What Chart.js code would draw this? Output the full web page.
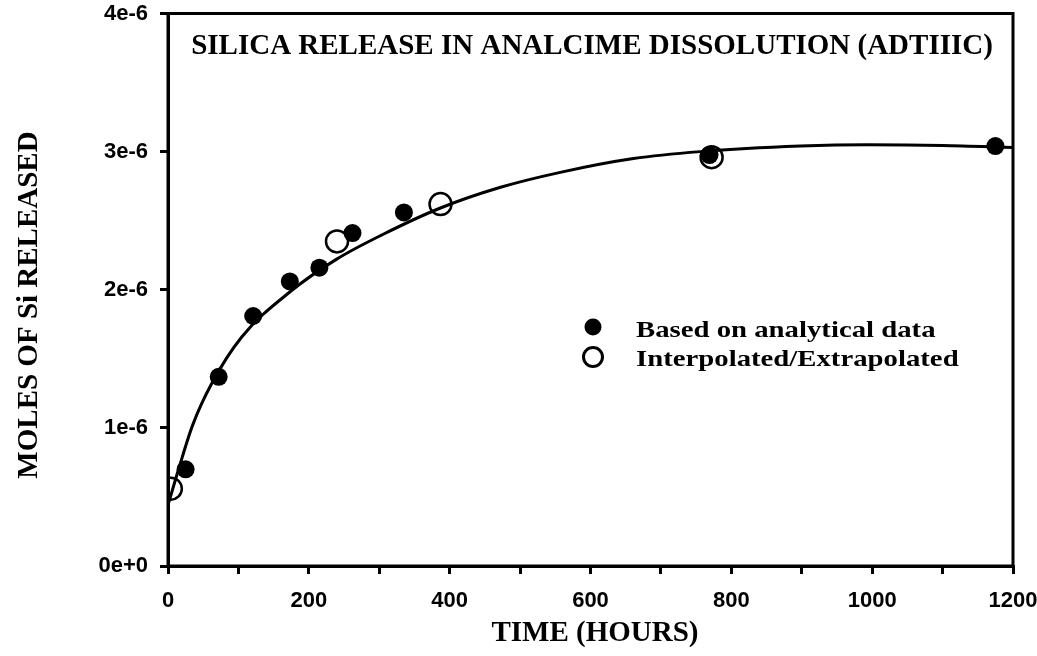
<!DOCTYPE html>
<html>
<head>
<meta charset="utf-8">
<script src="https://cdn.jsdelivr.net/npm/chart.js@4.4.1/dist/chart.umd.min.js"></script>
<style>
  html, body { margin: 0; padding: 0; background: #fff; }
  #wrap { width: 1037px; height: 656px; }
</style>
</head>
<body>
<div id="wrap"><canvas id="silica"></canvas></div>
<script>
// measured points (hours, moles of Si)
const analyticalHours = [25, 72, 121, 173, 215, 262, 335, 769, 1175];
const analyticalMoles = [0.70e-6, 1.37e-6, 1.81e-6, 2.06e-6, 2.16e-6, 2.41e-6, 2.56e-6, 2.975e-6, 3.04e-6];

// interpolated / extrapolated points
const interpHours = [4, 240, 387, 772];
const interpMoles = [0.56e-6, 2.35e-6, 2.62e-6, 2.96e-6];

// fitted release curve
const fitHours = [0, 15, 35, 63, 105, 172, 239, 305, 386, 471, 557, 661, 756, 898, 993, 1100, 1200];
const fitMoles = [0.44e-6, 0.70e-6, 1.02e-6, 1.33e-6, 1.66e-6, 1.98e-6, 2.22e-6, 2.40e-6, 2.59e-6,
                  2.74e-6, 2.85e-6, 2.95e-6, 3.00e-6, 3.04e-6, 3.05e-6, 3.045e-6, 3.03e-6];

const chartTitle = 'SILICA RELEASE IN ANALCIME DISSOLUTION (ADTIIIC)';
const xTitle = 'TIME (HOURS)';
const yTitle = 'MOLES OF Si RELEASED';

const pts = (xs, ys) => xs.map((x, i) => ({ x: x, y: ys[i] }));

const serif = '"Liberation Serif", "Times New Roman", serif';
const sans = '"Liberation Sans", Arial, sans-serif';

// frame, titles and the in-plot key
const decor = {
  id: 'decor',
  afterDraw(chart) {
    const ctx = chart.ctx, a = chart.chartArea;
    ctx.save();
    ctx.strokeStyle = '#000';
    ctx.lineWidth = 3;
    ctx.strokeRect(a.left, a.top, a.right - a.left, a.bottom - a.top);

    ctx.fillStyle = '#000';
    ctx.textBaseline = 'middle';
    ctx.textAlign = 'center';
    ctx.font = 'bold 29px ' + serif;
    ctx.fillText(chartTitle, 592, 47);

    ctx.fillText(xTitle, 595, 634);

    ctx.save();
    ctx.translate(30, 305);
    ctx.rotate(-Math.PI / 2);
    ctx.fillText(yTitle, 0, 0);
    ctx.restore();

    // key
    ctx.beginPath();
    ctx.arc(593, 327, 8.5, 0, Math.PI * 2);
    ctx.fill();
    ctx.beginPath();
    ctx.lineWidth = 3;
    ctx.arc(593, 357, 9.5, 0, Math.PI * 2);
    ctx.stroke();

    const labels = chart.data.datasets.slice(0, 2).map(d => d.label);
    ctx.textAlign = 'left';
    ctx.font = 'bold 23px ' + serif;
    [331, 360].forEach((y, i) => {
      ctx.save();
      ctx.translate(636, y);
      ctx.scale(1.25, 1);
      ctx.fillText(labels[i], 0, 0);
      ctx.restore();
    });
    ctx.restore();
  }
};

new Chart(document.getElementById('silica'), {
  type: 'scatter',
  data: {
    datasets: [
      {
        label: 'Based on analytical data',
        data: pts(analyticalHours, analyticalMoles),
        pointRadius: 9,
        backgroundColor: '#000',
        borderWidth: 0
      },
      {
        label: 'Interpolated/Extrapolated',
        data: pts(interpHours, interpMoles),
        pointRadius: 11,
        backgroundColor: 'rgba(0,0,0,0)',
        borderColor: '#000',
        borderWidth: 2.5
      },
      {
        label: 'fit',
        data: pts(fitHours, fitMoles),
        showLine: true,
        pointRadius: 0,
        borderColor: '#000',
        borderWidth: 3,
        cubicInterpolationMode: 'monotone'
      }
    ]
  },
  options: {
    responsive: true,
    maintainAspectRatio: false,
    animation: false,
    layout: { padding: { top: 12, right: 24, left: 0, bottom: 0 } },
    plugins: { legend: { display: false }, tooltip: { enabled: false } },
    scales: {
      x: {
        type: 'linear',
        min: 0,
        max: 1200,
        afterFit: s => { s.height = 90; s.paddingLeft = 0; s.paddingRight = 0; },
        border: { display: true, color: '#000', width: 3 },
        grid: { drawOnChartArea: false, drawTicks: true, tickLength: 8, color: '#000', lineWidth: 3 },
        ticks: {
          stepSize: 100,
          padding: 14,
          color: '#000',
          font: { family: sans, size: 22, weight: 'bold' },
          callback: v => (v % 200 === 0 ? v : '')
        }
      },
      y: {
        min: 0,
        max: 4e-6,
        afterFit: s => { s.width = 168; s.paddingTop = 0; s.paddingBottom = 0; },
        border: { display: true, color: '#000', width: 3 },
        grid: { drawOnChartArea: false, drawTicks: true, tickLength: 8, color: '#000', lineWidth: 3 },
        ticks: {
          stepSize: 1e-6,
          padding: 12,
          color: '#000',
          font: { family: sans, size: 22, weight: 'bold' },
          callback: v => Number(v).toExponential(0)
        }
      }
    }
  },
  plugins: [decor]
});
</script>
</body>
</html>
